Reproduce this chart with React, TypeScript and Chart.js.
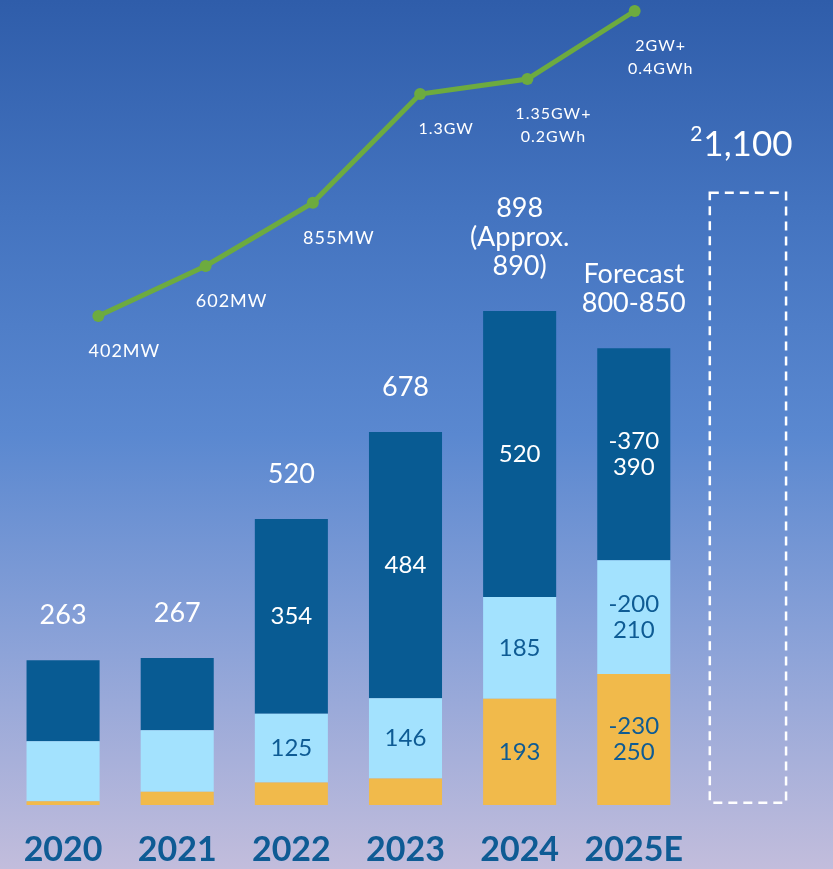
import React, { useEffect, useRef } from "react";
import { Chart, registerables } from "chart.js";

Chart.register(...registerables);

// ---- data ----
const categories = ["2020", "2021", "2022", "2023", "2024", "2025E", ""];
const yellowValues = [7, 24, 41, 48, 193, 238, null];
const lightValues = [109, 112, 125, 146, 185, 207, null];
const darkValues = [147, 131, 354, 484, 520, 385, null];
const targetValues = [null, null, null, null, null, null, 1115];

const totalLabels = [
  ["263"],
  ["267"],
  ["520"],
  ["678"],
  ["898", "(Approx.", "890)"],
  ["Forecast", "800-850"],
  ["1,100"],
];
const targetNote = "2";
const darkLabels = [[], [], ["354"], ["484"], ["520"], ["-370", "390"], []];
const lightLabels = [[], [], ["125"], ["146"], ["185"], ["-200", "210"], []];
const yellowLabels = [[], [], [], [], ["193"], ["-230", "250"], []];

const lineYears = [2020, 2021, 2022, 2023, 2024, 2025];
const lineValues = [402, 602, 855, 1290, 1350, 1622];
const lineLabels = [
  ["402MW"],
  ["602MW"],
  ["855MW"],
  ["1.3GW"],
  ["1.35GW+", "0.2GWh"],
  ["2GW+", "0.4GWh"],
];
const lineLabelSizes = [18, 18, 18, 16, 16, 16];

// ---- styles ----
const FONT = "Lato, 'Open Sans', sans-serif";
const DARK = "#085B93";
const LIGHT = "#A3E2FE";
const YELLOW = "#F1BA4B";
const GREEN = "#6DAB3F";
const TEXT_BLUE = "#0E5B94";

const labelPlugin = {
  id: "customLabels",
  afterDatasetsDraw(chart: any) {
    const ctx = chart.ctx;
    ctx.save();
    ctx.textAlign = "center";
    ctx.textBaseline = "middle";

    // dashed target box
    const targetMeta = chart.getDatasetMeta(3);
    const tEl = targetMeta.data[6];
    if (tEl) {
      const w = tEl.width;
      ctx.strokeStyle = "#FFFFFF";
      ctx.lineWidth = 2.5;
      ctx.setLineDash([9, 6]);
      ctx.strokeRect(tEl.x - w / 2 + 1.25, tEl.y + 1.25, w - 2.5, tEl.base - tEl.y - 3.5);
      ctx.setLineDash([]);
    }

    // segment labels
    const segs = [
      { idx: 0, labels: yellowLabels, color: TEXT_BLUE },
      { idx: 1, labels: lightLabels, color: TEXT_BLUE },
      { idx: 2, labels: darkLabels, color: "#FFFFFF" },
    ];
    ctx.font = `24px ${FONT}`;
    segs.forEach((s) => {
      const meta = chart.getDatasetMeta(s.idx);
      ctx.fillStyle = s.color;
      meta.data.forEach((el: any, i: number) => {
        const lines = s.labels[i];
        if (!lines || !lines.length) return;
        const cy = (el.y + el.base) / 2;
        lines.forEach((t: string, k: number) => {
          ctx.fillText(t, el.x, cy + (k - (lines.length - 1) / 2) * 26);
        });
      });
    });

    // totals
    const darkMeta = chart.getDatasetMeta(2);
    ctx.fillStyle = "#FFFFFF";
    categories.forEach((_, i) => {
      const lines = totalLabels[i];
      const el = i < 6 ? darkMeta.data[i] : targetMeta.data[i];
      if (!el || !lines) return;
      if (i === 6) {
        ctx.font = `35px ${FONT}`;
        const cy = el.y - 47;
        ctx.fillText(lines[0], el.x, cy);
        const tw = ctx.measureText(lines[0]).width;
        ctx.font = `21px ${FONT}`;
        ctx.textAlign = "right";
        ctx.fillText(targetNote, el.x - tw / 2 - 1, cy - 10);
        ctx.textAlign = "center";
        return;
      }
      ctx.font = `27px ${FONT}`;
      const bottomY = el.y - 45;
      lines.forEach((t: string, k: number) => {
        ctx.fillText(t, el.x, bottomY - (lines.length - 1 - k) * 29);
      });
    });

    // line labels
    const lineMeta = chart.getDatasetMeta(4);
    try {
      (ctx as any).letterSpacing = "1px";
    } catch (e) {}
    lineMeta.data.forEach((p: any, i: number) => {
      const lines = lineLabels[i];
      ctx.font = `${lineLabelSizes[i]}px ${FONT}`;
      lines.forEach((t: string, k: number) => {
        ctx.fillText(t, p.x + 26, p.y + 35 + k * 23);
      });
    });

    ctx.restore();
  },
};

export default function App() {
  const canvasRef = useRef<HTMLCanvasElement | null>(null);

  useEffect(() => {
    if (!canvasRef.current) return;
    const barCommon = { grouped: false, categoryPercentage: 1 };
    const chart = new Chart(canvasRef.current, {
      type: "bar",
      data: {
        labels: categories,
        datasets: [
          { label: "yellow", data: yellowValues, backgroundColor: YELLOW, barPercentage: 0.64, ...barCommon },
          { label: "light", data: lightValues, backgroundColor: LIGHT, barPercentage: 0.64, ...barCommon },
          { label: "dark", data: darkValues, backgroundColor: DARK, barPercentage: 0.64, ...barCommon },
          { label: "target", data: targetValues, backgroundColor: "rgba(0,0,0,0)", barPercentage: 0.69, ...barCommon },
          {
            type: "line",
            label: "capacity",
            data: lineYears.map((x, i) => ({ x, y: lineValues[i] })),
            xAxisID: "x2",
            yAxisID: "y2",
            borderColor: GREEN,
            backgroundColor: GREEN,
            borderWidth: 5,
            pointRadius: 6,
            pointBackgroundColor: GREEN,
            pointBorderWidth: 0,
            tension: 0,
            clip: false,
          } as any,
        ],
      },
      options: {
        responsive: false,
        animation: false,
        devicePixelRatio: 1,
        layout: { autoPadding: false, padding: { left: 6, right: 28, top: 0, bottom: 2 } },
        plugins: { legend: { display: false }, tooltip: { enabled: false } },
        scales: {
          x: {
            stacked: true,
            offset: true,
            grid: { display: false, drawTicks: true, tickLength: 28 },
            border: { display: false },
            ticks: {
              color: TEXT_BLUE,
              padding: 0,
              maxRotation: 0,
              autoSkip: false,
              font: { family: FONT, size: 34, weight: "bold", lineHeight: 1 },
            },
          },
          x2: {
            type: "linear",
            display: false,
            offset: false,
            grid: { offset: false },
            min: 2019.139,
            max: 2026.588,
          },
          y: { stacked: true, display: false, min: 0, max: 1463 },
          y2: { display: false, min: -1554, max: 1666 },
        },
      },
      plugins: [labelPlugin],
    } as any);
    return () => chart.destroy();
  }, []);

  return (
    <div
      style={{
        position: "absolute",
        left: 0,
        top: 0,
        width: 833,
        height: 869,
        overflow: "hidden",
        background:
          "linear-gradient(180deg, #2F5DAA 0%, #4474C0 25%, #5A88D0 50%, #8DA3D8 75%, #C2BDDC 100%)",
      }}
    >
      <canvas ref={canvasRef} width={833} height={869} style={{ display: "block" }} />
    </div>
  );
}
